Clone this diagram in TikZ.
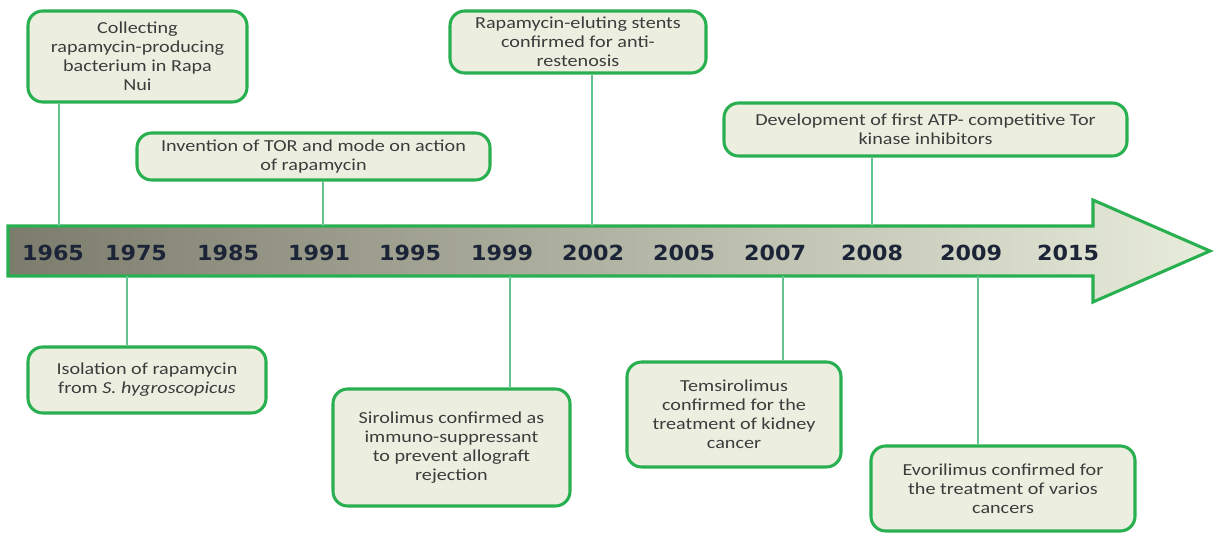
\documentclass[tikz,border=0pt]{standalone}
\usepackage{fontspec}
\setmainfont{Carlito}[FakeStretch=1.2]
\newfontfamily\yearfont{DejaVu Sans}[FakeStretch=1.07]
\definecolor{boxgreen}{RGB}{40,176,80}
\definecolor{boxfill}{RGB}{236,239,224}
\definecolor{linkgreen}{RGB}{100,195,145}
\definecolor{txtgray}{RGB}{60,60,60}
\definecolor{yearblue}{RGB}{28,36,56}
\definecolor{arrowdark}{RGB}{124,124,108}
\definecolor{arrowmid}{RGB}{196,198,178}
\definecolor{arrowlight}{RGB}{232,236,218}
\begin{document}
\begin{tikzpicture}[x=0.75pt,y=-0.75pt,
  event/.style={draw=boxgreen, line width=2.3pt, fill=boxfill, rounded corners=11pt,
    align=center, text=txtgray, font=\fontsize{12.6}{14.25}\selectfont, inner sep=0pt},
  year/.style={font=\yearfont\bfseries\fontsize{15.6}{18}\selectfont, text=yearblue},
  link/.style={draw=linkgreen, line width=1.1pt},
  timeline/.style={draw=boxgreen, line width=2.3pt, line join=miter,
    left color=arrowdark, middle color=arrowmid, right color=arrowlight}]
\useasboundingbox (0,0) rectangle (1215,534);

% timeline arrow
\path[timeline] (8,226) -- (1093,226) -- (1093,200) -- (1210,251) -- (1093,302)
  -- (1093,276) -- (8,276) -- cycle;

% years
\foreach \yr/\xx in {1965/53,1975/136,1985/228,1991/319,1995/410,1999/502,
  2002/593,2005/684,2007/775,2008/872,2009/971,2015/1068}
  \node[year] (y\yr) at (\xx,252.5) {\yr};

% anchor points on the arrow edges
\coordinate (a1) at (59,226);
\coordinate (a2) at (323,226);
\coordinate (a3) at (592,226);
\coordinate (a4) at (872,226);
\coordinate (b1) at (127,276);
\coordinate (b2) at (510,276);
\coordinate (b3) at (783,276);
\coordinate (b4) at (978,276);

% event boxes
\node[event, minimum width=164.25pt, minimum height=68.25pt] (e1) at (137.5,56.5)
  {Collecting\\rapamycin-producing\\bacterium in Rapa\\Nui};
\node[event, minimum width=264.75pt, minimum height=35.25pt] (e2) at (313.5,156.5)
  {Invention of TOR and mode on action\\of rapamycin};
\node[event, minimum width=192pt, minimum height=46.5pt] (e3) at (578,42)
  {Rapamycin-eluting stents\\confirmed for anti-\\restenosis};
\node[event, minimum width=302.25pt, minimum height=39.75pt] (e4) at (925.5,129.5)
  {Development of first ATP- competitive Tor\\kinase inhibitors};
\node[event, minimum width=178.5pt, minimum height=49.5pt] (e5) at (147,380)
  {Isolation of rapamycin\\from \textit{S. hygroscopicus}};
\node[event, minimum width=177.75pt, minimum height=87.75pt] (e6) at (451.5,447.5)
  {Sirolimus confirmed as\\immuno-suppressant\\to prevent allograft\\rejection};
\node[event, minimum width=160.5pt, minimum height=78.75pt] (e7) at (734,414.5)
  {Temsirolimus\\confirmed for the\\treatment of kidney\\cancer};
\node[event, minimum width=198pt, minimum height=63.75pt] (e8) at (1003,488.5)
  {Evorilimus confirmed for\\the treatment of varios\\cancers};

% connectors
\draw[link] (a1) -- (a1 |- e1.south);
\draw[link] (a2) -- (a2 |- e2.south);
\draw[link] (a3) -- (a3 |- e3.south);
\draw[link] (a4) -- (a4 |- e4.south);
\draw[link] (b1) -- (b1 |- e5.north);
\draw[link] (b2) -- (b2 |- e6.north);
\draw[link] (b3) -- (b3 |- e7.north);
\draw[link] (b4) -- (b4 |- e8.north);
\end{tikzpicture}
\end{document}
